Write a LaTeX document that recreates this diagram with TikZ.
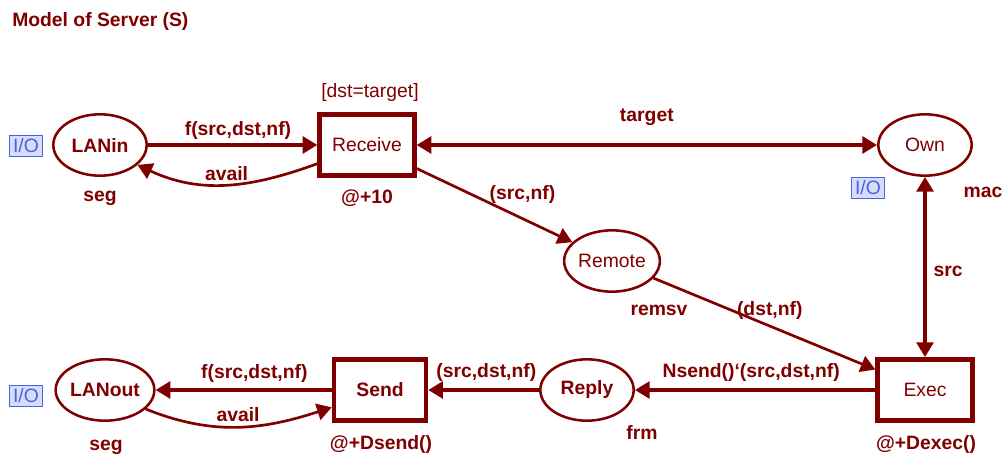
\documentclass[tikz,border=0pt]{standalone}
\usepackage{fontspec}
\setmainfont{Liberation Sans}
\usepackage{tikz}
\usetikzlibrary{shapes,arrows.meta,positioning,calc}

\definecolor{cpnred}{RGB}{128,0,0}
\definecolor{ioblue}{RGB}{70,100,225}
\definecolor{iofill}{RGB}{215,220,250}

\newcommand{\cpnfont}{\fontsize{14.5}{17}\selectfont}

\begin{document}
\begin{tikzpicture}[x=0.75pt,y=-0.75pt,
  font=\cpnfont,
  place/.style={ellipse,draw=cpnred,line width=1.9pt,minimum width=70pt,minimum height=46pt,inner sep=0pt,text=cpnred},
  trans/.style={rectangle,draw=cpnred,line width=3.4pt,minimum width=71pt,minimum height=46pt,inner sep=0pt,text=cpnred},
  boldtext/.style={font=\cpnfont\bfseries},
  arc/.style={draw=cpnred,line width=2pt,-{Triangle[length=11pt,width=12.5pt]}},
  fatarc/.style={arc,line width=3pt},
  both/.style={{Triangle[length=11pt,width=12.5pt]}-{Triangle[length=11pt,width=12.5pt]}},
  lbl/.style={text=cpnred,font=\cpnfont\bfseries,inner sep=0pt},
  iotag/.style={draw=ioblue,fill=iofill,text=ioblue,line width=1.2pt,minimum width=25pt,minimum height=16pt,inner sep=0pt}]
  \useasboundingbox (0,0) rectangle (1004,456);

  \node[lbl,anchor=west] (title) at (12,22) {Model of Server (S)};

  % places and transitions
  \node[place,boldtext] (lanin) at (100,145) {LANin};
  \node[trans] (receive) at (367,145) {Receive};
  \node[place] (own) at (925,145) {Own};
  \node[place,minimum width=66pt] (remote) at (612,261) {Remote};
  \node[trans] (exec) at (925,390) {Exec};
  \node[place,boldtext] (reply) at (587,390) {Reply};
  \node[trans,boldtext,minimum width=69pt] (send) at (380,390) {Send};
  \node[place,boldtext] (lanout) at (105,390) {LANout};

  % port tags
  \node[iotag] (iolanin) at (26,146) {I/O};
  \node[iotag] (ioown) at (868,188) {I/O};
  \node[iotag] (iolanout) at (26,396) {I/O};

  % inscriptions
  \node[lbl] (seg1) at (100,198) {seg};
  \node[lbl,font=\cpnfont] (guard) at (370,93) {[dst=target]};
  \node[lbl] (time1) at (367,198) {@+10};
  \node[lbl] (remsv) at (659,310) {remsv};
  \node[lbl] (mac) at (983,192) {mac};
  \node[lbl] (frm) at (642,432) {frm};
  \node[lbl] (time2) at (926,445) {@+Dexec()};
  \node[lbl] (time3) at (381,445) {@+Dsend()};
  \node[lbl] (seg2) at (106,447) {seg};

  % arcs
  \draw[fatarc] (lanin) -- (receive) node[lbl,midway,xshift=4pt,yshift=11pt] {f(src,dst,nf)};
  \draw[arc] ([yshift=-14pt]receive.west) to[out=200,in=-25] node[lbl,midway,yshift=8pt] {avail} (lanin.-28);
  \draw[fatarc,both] (receive) -- (own) node[lbl,midway,yshift=21pt] {target};
  \draw[arc] (receive) -- (remote) node[lbl,midway,xshift=21pt,yshift=8pt] {(src,nf)};
  \draw[arc] (remote) -- (exec) node[lbl,midway,xshift=4pt,yshift=10pt] {(dst,nf)};
  \draw[fatarc,both] (own) -- (exec) node[lbl,midway,right=5pt,yshift=-3pt] {src};
  \draw[fatarc] (exec) -- (reply) node[lbl,midway,xshift=-3pt,yshift=13pt] {Nsend()‘(src,dst,nf)};
  \draw[fatarc] (reply) -- (send) node[lbl,midway,xshift=2pt,yshift=13pt] {(src,dst,nf)};
  \draw[fatarc] (send) -- (lanout) node[lbl,midway,xshift=8pt,yshift=12pt] {f(src,dst,nf)};
  \draw[arc] (lanout.-25) to[out=-22,in=198] node[lbl,midway,yshift=9pt] {avail} ([yshift=-13pt]send.west);
\end{tikzpicture}
\end{document}
